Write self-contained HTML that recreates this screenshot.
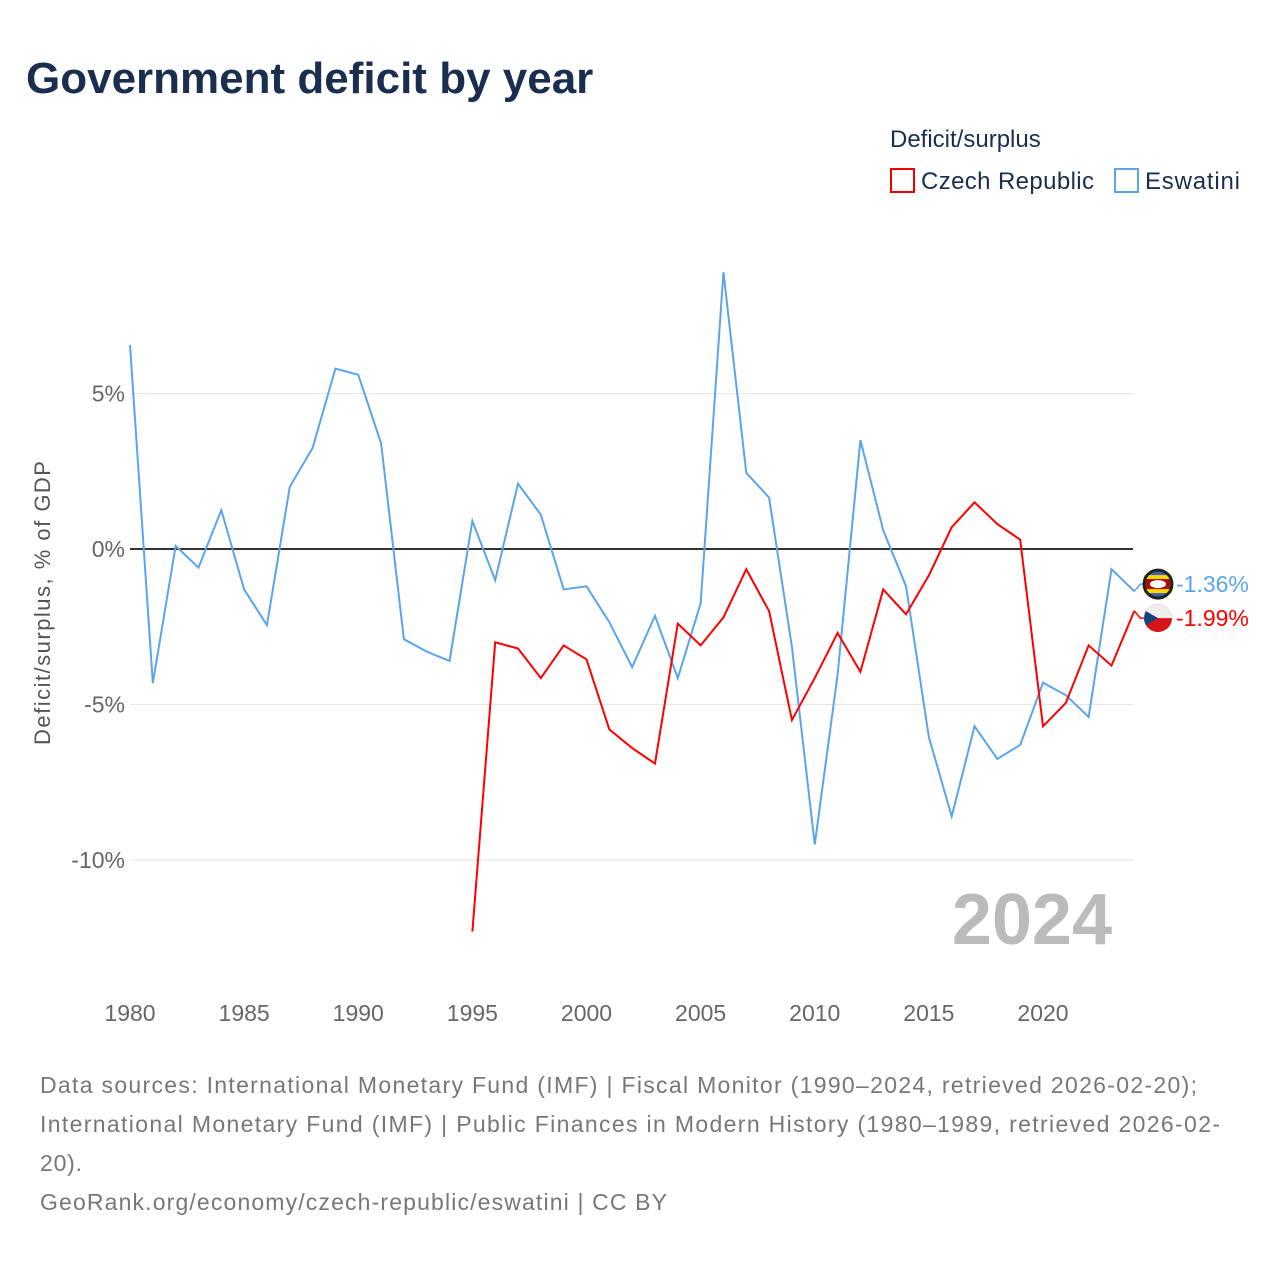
<!DOCTYPE html>
<html><head><meta charset="utf-8"><style>
body{margin:0;background:#fff;font-family:"Liberation Sans",sans-serif;}
</style></head><body>
<svg width="1280" height="1280" xmlns="http://www.w3.org/2000/svg">
<text x="26" y="93" font-size="44" font-weight="bold" fill="#1a2e4f">Government deficit by year</text>
<text x="890" y="147" font-size="24" fill="#1a2e4f">Deficit/surplus</text>
<g><rect x="891" y="169" width="23" height="23" fill="none" stroke="#e00" stroke-width="2"/><text x="921" y="189" font-size="24" fill="#1a2e4f" textLength="173">Czech Republic</text></g>
<g><rect x="1115" y="169" width="23" height="23" fill="none" stroke="#5aa5ea" stroke-width="2"/><text x="1145" y="189" font-size="24" fill="#1a2e4f" textLength="95">Eswatini</text></g>
<g id="grid"></g>
<text x="1112" y="944" font-size="72" font-weight="bold" fill="#bbb" text-anchor="end">2024</text>
<text transform="translate(50,603) rotate(-90)" font-size="22" fill="#555" text-anchor="middle" textLength="284">Deficit/surplus, % of GDP</text>
<g id="series"></g>
<text x="40" y="1093" font-size="23" fill="#777" textLength="1157">Data sources: International Monetary Fund (IMF) | Fiscal Monitor (1990–2024, retrieved 2026-02-20);</text>
<text x="40" y="1132" font-size="23" fill="#777" textLength="1180">International Monetary Fund (IMF) | Public Finances in Modern History (1980–1989, retrieved 2026-02-</text>
<text x="40" y="1171" font-size="23" fill="#777" textLength="42">20).</text>
<text x="40" y="1210" font-size="23" fill="#777" textLength="627">GeoRank.org/economy/czech-republic/eswatini | CC BY</text>
</svg>
<script>
const eswatiniYears=[];for(let y=1980;y<=2024;y++)eswatiniYears.push(y);
const eswatiniValues=[6.56,-4.31,0.1,-0.6,1.25,-1.3,-2.45,2.0,3.25,5.8,5.6,3.4,-2.9,-3.3,-3.6,0.9,-1.0,2.1,1.1,-1.3,-1.2,-2.35,-3.8,-2.15,-4.15,-1.75,8.9,2.45,1.65,-3.15,-9.5,-4.05,3.5,0.6,-1.2,-6.05,-8.6,-5.7,-6.75,-6.3,-4.3,-4.7,-5.4,-0.65,-1.36];
const czechYears=[];for(let y=1995;y<=2024;y++)czechYears.push(y);
const czechValues=[-12.3,-3.0,-3.2,-4.15,-3.1,-3.55,-5.8,-6.4,-6.9,-2.4,-3.1,-2.2,-0.65,-2.0,-5.5,-4.15,-2.7,-3.95,-1.3,-2.1,-0.85,0.7,1.5,0.8,0.3,-5.7,-4.95,-3.1,-3.75,-1.99];
const yTicks=[5,0,-5,-10];
const yTickLabels=["5%","0%","-5%","-10%"];
const xTicks=[1980,1985,1990,1995,2000,2005,2010,2015,2020];
const NS="http://www.w3.org/2000/svg";
const X=y=>130+(y-1980)*22.825;
const Y=v=>549-v*31.1;
function mk(t,a,p){const e=document.createElementNS(NS,t);for(const k in a)e.setAttribute(k,a[k]);p.appendChild(e);return e;}
const g=document.getElementById('grid'),s=document.getElementById('series');
yTicks.forEach((v,i)=>{
 const l=mk('line',{x1:130,x2:1133,y1:Y(v),y2:Y(v),stroke:v===0?'#333':'#e5e5e5','stroke-width':v===0?2:1},g);
 
 
 const t=mk('text',{x:125,y:Y(v)+8,'font-size':23,fill:'#666','text-anchor':'end'},g);t.textContent=yTickLabels[i];
 
 
});
xTicks.forEach(yr=>{
 const t=mk('text',{x:X(yr),y:1021,'font-size':23,fill:'#666','text-anchor':'middle'},g);t.textContent=yr;
 
 
});
function line(xs,vs,c,name){
 const p=mk('polyline',{points:xs.map((x,i)=>X(x)+','+Y(vs[i])).join(' '),fill:'none',stroke:c,'stroke-width':2},s);
 
 
}
line(eswatiniYears,eswatiniValues,'#5aa5ea','eswatini-line');
line(czechYears,czechValues,'#f00','czech-line');
// label positions with collision avoidance
const vE=eswatiniValues[eswatiniValues.length-1],vC=czechValues[czechValues.length-1];
let yE=Y(vE),yC=Y(vC);
if(Math.abs(yE-yC)<34){const m=(yE+yC)/2,sgn=yE<yC?-1:1;yE=m+sgn*17;yC=m-sgn*17;}
function label(v,ly,c,name,flag){
 const dy=Y(v),x0=X(2024);
 mk('polyline',{points:`${x0},${dy} ${x0+6},${ly} ${x0+12},${ly}`,fill:'none',stroke:c,'stroke-width':1.5},s);
 const f=mk('g',{},s);
 
 
 if(flag==='cz'){
  mk('circle',{cx:1158,cy:ly,r:14,fill:'#d7141a'},f);
  mk('path',{d:`M1144,${ly} A14,14 0 0 1 1172,${ly} Z`,fill:'#eee'},f);
  mk('path',{d:`M1146,${ly-7} L1158,${ly} L1146,${ly+7} A14,14 0 0 1 1146,${ly-7} Z`,fill:'#11457e'},f);
 }else{
  mk('circle',{cx:1158,cy:ly,r:14,fill:'#3e5eb9'},f);
  mk('rect',{x:1144,y:ly-9,width:28,height:4,fill:'#ffd900'},f);
  mk('rect',{x:1144,y:ly-5,width:28,height:10,fill:'#b10c0c'},f);
  mk('rect',{x:1144,y:ly+5,width:28,height:4,fill:'#ffd900'},f);
  mk('ellipse',{cx:1158,cy:ly,rx:8,ry:4,fill:'#fff'},f);
  mk('circle',{cx:1158,cy:ly,r:14,fill:'none',stroke:'#222','stroke-width':3},f);
 }
 const t=mk('text',{x:1176,y:ly+8,'font-size':23,fill:c},s);t.textContent=v.toFixed(2)+'%';
 
 
}
label(vE,yE,'#5aa5ea','eswatini','sz');
label(vC,yC,'#f00','czech','cz');
</script>
</body></html>
